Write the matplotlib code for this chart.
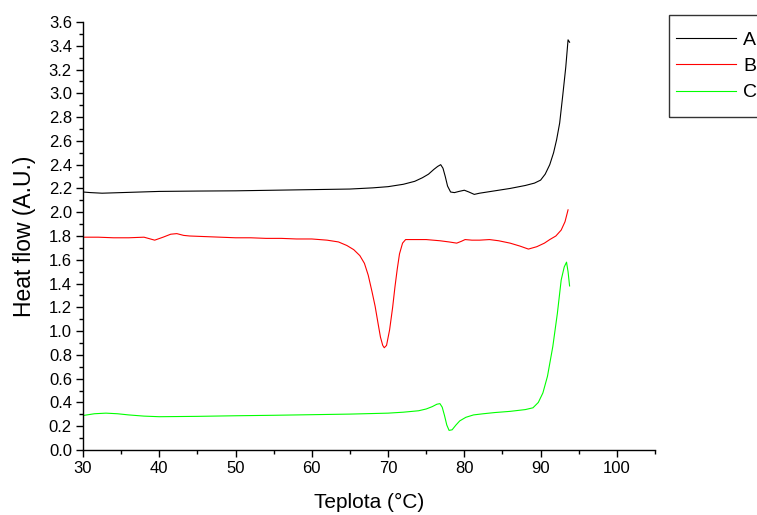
import numpy as np
import matplotlib.pyplot as plt
from matplotlib.patches import Rectangle
from matplotlib.ticker import MultipleLocator, FormatStrFormatter

plt.rcParams['font.family'] = ['Liberation Sans', 'DejaVu Sans']

# ================= Data =================
temp_a = [30.0, 31.0, 32.5, 35, 40, 45, 50, 55, 60, 65, 68, 70, 72, 73.5, 74.5,
          75.3, 76.0, 76.5, 76.9, 77.2, 77.5, 77.8, 78.2, 78.7, 79.3, 80.0, 80.6,
          81.3, 82.0, 84, 86, 88, 89.2, 90.0, 90.6, 91.2, 91.7, 92.1, 92.5, 92.9,
          93.3, 93.6, 93.8]
flow_a = [2.17, 2.165, 2.16, 2.165, 2.175, 2.178, 2.18, 2.185, 2.19, 2.195, 2.205,
          2.215, 2.235, 2.26, 2.29, 2.32, 2.36, 2.385, 2.40, 2.37, 2.30, 2.22, 2.17,
          2.165, 2.175, 2.185, 2.17, 2.15, 2.16, 2.18, 2.20, 2.225, 2.245, 2.27,
          2.32, 2.40, 2.50, 2.61, 2.75, 2.98, 3.22, 3.45, 3.43]

temp_b = [30, 32, 34, 36, 38, 39.4, 40.5, 41.5, 42.3, 43.2, 44, 46, 48, 50, 52, 54,
          56, 58, 60, 62, 63.5, 64.6, 65.5, 66.3, 66.9, 67.4, 67.9, 68.3, 68.7, 69.0,
          69.3, 69.5, 69.8, 70.2, 70.6, 70.9, 71.2, 71.5, 71.9, 72.3, 73, 75, 76.8,
          78, 79, 79.6, 80.1, 81, 82, 83.3, 84.5, 86, 87.3, 88.4, 89.5, 90.5, 91.2,
          92.0, 92.7, 93.2, 93.6]
flow_b = [1.79, 1.79, 1.785, 1.785, 1.79, 1.765, 1.79, 1.815, 1.82, 1.805, 1.80,
          1.795, 1.79, 1.785, 1.785, 1.78, 1.78, 1.775, 1.775, 1.765, 1.75, 1.72,
          1.685, 1.635, 1.57, 1.47, 1.33, 1.21, 1.06, 0.95, 0.88, 0.86, 0.88, 1.01,
          1.20, 1.37, 1.52, 1.65, 1.74, 1.77, 1.77, 1.77, 1.76, 1.75, 1.74, 1.755,
          1.77, 1.765, 1.765, 1.77, 1.76, 1.74, 1.715, 1.69, 1.71, 1.74, 1.77, 1.80,
          1.85, 1.92, 2.02]

temp_c = [30, 31.5, 33, 34.5, 36, 38, 40, 45, 50, 55, 60, 65, 70, 72, 74, 75, 75.8,
          76.4, 76.8, 77.1, 77.4, 77.7, 78.0, 78.4, 78.9, 79.4, 80.2, 81.2, 82.5, 84,
          86, 88, 89.0, 89.7, 90.3, 90.9, 91.6, 92.2, 92.7, 93.1, 93.4, 93.6, 93.8]
flow_c = [0.29, 0.305, 0.31, 0.305, 0.295, 0.285, 0.28, 0.283, 0.288, 0.292, 0.297,
          0.302, 0.31, 0.318, 0.33, 0.345, 0.365, 0.385, 0.39, 0.36, 0.29, 0.21,
          0.165, 0.17, 0.21, 0.245, 0.275, 0.295, 0.305, 0.315, 0.325, 0.34, 0.355,
          0.40, 0.48, 0.62, 0.87, 1.15, 1.43, 1.54, 1.58, 1.50, 1.38]

labels = ['A', 'B', 'C']
colors = ['black', '#ff0000', '#00ff00']

# ================= Plot =================
fig = plt.figure(figsize=(7.57, 5.15), dpi=100)
ax = fig.add_axes([83 / 757, 1 - 450 / 515, (655 - 83) / 757, (450 - 22) / 515])

for t, f, lab, c in zip([temp_a, temp_b, temp_c], [flow_a, flow_b, flow_c], labels, colors):
    ax.plot(t, f, color=c, linewidth=0.8, label=lab)

ax.set_xlim(30, 105)
ax.set_ylim(0, 3.6)
ax.xaxis.set_major_locator(MultipleLocator(10))
ax.xaxis.set_minor_locator(MultipleLocator(5))
ax.yaxis.set_major_locator(MultipleLocator(0.2))
ax.yaxis.set_minor_locator(MultipleLocator(0.1))
ax.yaxis.set_major_formatter(FormatStrFormatter('%.1f'))

for side in ['top', 'right']:
    ax.spines[side].set_visible(False)
for side in ['left', 'bottom']:
    ax.spines[side].set_linewidth(1.0)

ax.tick_params(which='major', direction='out', length=5, width=1.0, labelsize=12, pad=3)
ax.tick_params(which='minor', direction='out', length=3, width=1.0)

ax.set_xlabel('Teplota (°C)', fontsize=15, labelpad=12)
ax.set_ylabel('Heat flow (A.U.)', fontsize=16.5, labelpad=9)

# legend box, cut off at the right edge like the original
leg = fig.legend(loc='upper left', bbox_to_anchor=(676 / 757, 1 - 31 / 515),
                 frameon=False, fontsize=14, handlelength=3.1, handletextpad=0.35,
                 labelspacing=0.45, borderaxespad=0, borderpad=0)
fig.patches.append(Rectangle((669 / 757, 1 - 117 / 515), 0.3, (117 - 15) / 515,
                             transform=fig.transFigure, fill=False,
                             edgecolor='#333333', linewidth=1.0))

plt.savefig('out.png', dpi=100)
